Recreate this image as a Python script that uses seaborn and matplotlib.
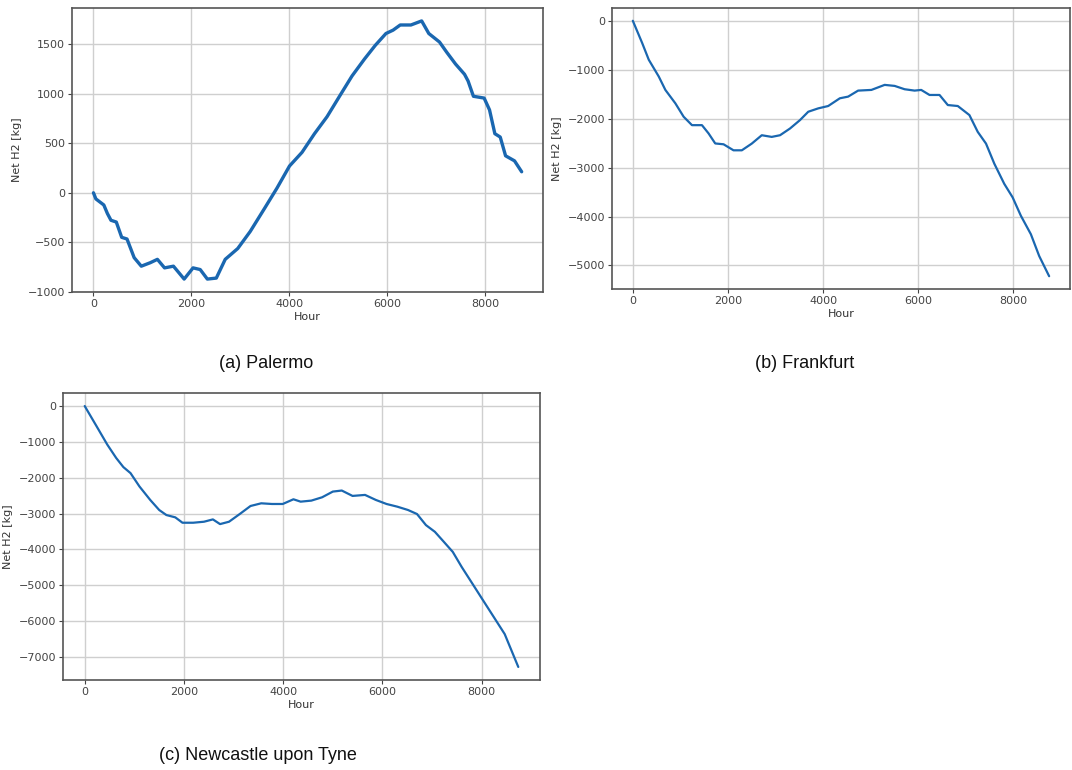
import matplotlib
matplotlib.use("Agg")
import matplotlib.pyplot as plt
import seaborn as sns
import pandas as pd

# ---- Data (hour, net H2 in kg) ----
palermo_hour = [0, 50, 212, 285, 358, 467, 540, 577, 686, 832, 978, 1161, 1307, 1453,
                1635, 1854, 2036, 2182, 2328, 2511, 2693, 2949, 3204, 3496, 3752, 4007,
                4263, 4518, 4774, 5029, 5285, 5540, 5759, 5978, 6124, 6270, 6489, 6708,
                6854, 7073, 7219, 7401, 7584, 7657, 7766, 7985, 8095, 8204, 8314, 8423,
                8606, 8752]
palermo_h2 = [0, -62, -123, -209, -277, -295, -397, -449, -466, -654, -740, -705, -671, -757,
              -740, -870, -757, -774, -870, -860, -671, -562, -390, -158, 48, 270,
              408, 596, 767, 973, 1178, 1349, 1486, 1606, 1640, 1692, 1692, 1733,
              1606, 1520, 1418, 1298, 1195, 1127, 973, 955, 836, 596, 562, 373,
              322, 212]

frankfurt_hour = [0, 196, 335, 545, 684, 894, 1068, 1243, 1453, 1592, 1732, 1907, 2116,
                  2291, 2500, 2710, 2919, 3094, 3303, 3513, 3687, 3897, 4106, 4351, 4525,
                  4735, 5014, 5293, 5503, 5712, 5922, 6061, 6236, 6446, 6620, 6830, 7074,
                  7249, 7423, 7598, 7807, 7982, 8156, 8366, 8541, 8750]
frankfurt_h2 = [0, -453, -796, -1139, -1413, -1687, -1961, -2133, -2133, -2302, -2507, -2524,
                -2647, -2647, -2510, -2339, -2373, -2339, -2202, -2030, -1859, -1790, -1742,
                -1584, -1550, -1427, -1413, -1310, -1331, -1399, -1427, -1413, -1516, -1516,
                -1722, -1742, -1927, -2270, -2510, -2921, -3333, -3608, -3985, -4362, -4808,
                -5220]

newcastle_hour = [0, 238, 455, 635, 779, 923, 1104, 1320, 1501, 1645, 1825, 1970, 2186,
                  2403, 2583, 2727, 2908, 3124, 3341, 3557, 3774, 3990, 4206, 4351, 4567,
                  4784, 5000, 5180, 5397, 5649, 5866, 6082, 6299, 6515, 6696, 6876, 7056,
                  7237, 7417, 7597, 7814, 8030, 8247, 8463, 8737]
newcastle_h2 = [0, -561, -1076, -1450, -1703, -1871, -2245, -2619, -2900, -3040, -3105,
                -3255, -3255, -3227, -3162, -3293, -3227, -3012, -2788, -2713, -2732, -2732,
                -2601, -2667, -2638, -2545, -2386, -2357, -2507, -2479, -2619, -2732, -2807,
                -2900, -3012, -3321, -3508, -3788, -4069, -4490, -4958, -5426, -5894, -6361,
                -7278]

captions = ["(a) Palermo", "(b) Frankfurt", "(c) Newcastle upon Tyne"]
x_label = "Hour"
y_label = "Net H2 [kg]"

# ---- Style ----
sns.set_style("whitegrid", {
    "axes.edgecolor": "#555555",
    "grid.color": "#cfcfcf",
    "xtick.bottom": True,
    "ytick.left": True,
    "xtick.color": "#444444",
    "ytick.color": "#444444",
})
plt.rcParams["font.family"] = ["DejaVu Sans"]
plt.rcParams["xtick.major.size"] = 3
plt.rcParams["ytick.major.size"] = 3
plt.rcParams["xtick.major.width"] = 0.8
plt.rcParams["ytick.major.width"] = 0.8

line_color = "#1a67b0"

fig = plt.figure(figsize=(10.72, 7.70), dpi=100)

ax_a = fig.add_axes([0.0672, 0.6208, 0.4394, 0.3688])
ax_b = fig.add_axes([0.5709, 0.6247, 0.4272, 0.3649])
ax_c = fig.add_axes([0.0588, 0.1169, 0.4449, 0.3727])

series = [
    (ax_a, palermo_hour, palermo_h2, 2.4),
    (ax_b, frankfurt_hour, frankfurt_h2, 1.6),
    (ax_c, newcastle_hour, newcastle_h2, 1.6),
]

for ax, hrs, vals, lw in series:
    df = pd.DataFrame({"Hour": hrs, "Net": vals})
    sns.lineplot(data=df, x="Hour", y="Net", ax=ax, color=line_color,
                 linewidth=lw, estimator=None, sort=False)
    ax.set_xlabel(x_label, fontsize=8, color="#333333", labelpad=2)
    ax.set_ylabel(y_label, fontsize=8, color="#333333", labelpad=4)
    ax.tick_params(labelsize=8, pad=2)
    ax.set_xticks([0, 2000, 4000, 6000, 8000])
    for sp in ax.spines.values():
        sp.set_linewidth(1.2)
    ax.grid(True, linewidth=1.0)

ax_a.set_yticks([-1000, -500, 0, 500, 1000, 1500])
ax_b.set_yticks([-5000, -4000, -3000, -2000, -1000, 0])
ax_c.set_yticks([-7000, -6000, -5000, -4000, -3000, -2000, -1000, 0])

cap_font = ["Liberation Sans", "DejaVu Sans"]
fig.text(266 / 1072, 1 - 363 / 770, captions[0], ha="center", va="center",
         fontsize=13, family=cap_font, color="#111111")
fig.text(805 / 1072, 1 - 363 / 770, captions[1], ha="center", va="center",
         fontsize=13, family=cap_font, color="#111111")
fig.text(258 / 1072, 1 - 755 / 770, captions[2], ha="center", va="center",
         fontsize=13, family=cap_font, color="#111111")

fig.savefig("out.png", dpi=100, facecolor="white")
